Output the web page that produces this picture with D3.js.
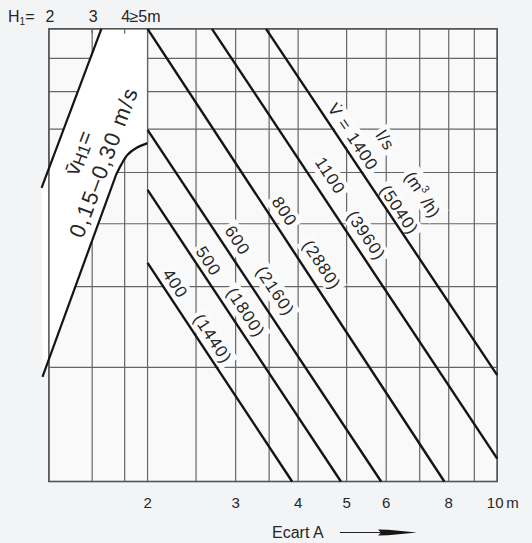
<!DOCTYPE html>
<html>
<head>
<meta charset="utf-8">
<script src="https://cdn.jsdelivr.net/npm/d3@7"></script>
<style>
html, body { margin: 0; padding: 0; background: #f3f4f6; }
svg { display: block; font-family: "Liberation Sans", Arial, Helvetica, sans-serif; }
</style>
</head>
<body>
<svg id="chart" width="532" height="543"></svg>
<script>
// distance A (m), log axis along the bottom
var distTicks  = [2, 3, 4, 5, 6, 8, 10];
var distLabels = ["2", "3", "4", "5", "6", "8", "10"];
var gridX = [1.27, 1.55, 1.8, 2, 2.5, 3, 3.5, 4, 5, 6, 7, 8, 9, 10];
var gridY = [2, 3, 4, 5, 6, 7, 8, 9, 10];

// H1 marks along the top
var h1Ticks  = [1.27, 1.55, 1.8, 2];
var h1Labels = ["2", "3", "4", "≥5m"];

// flow lines: l/s, m3/h, start and end point [A, y]
var flowLs    = [400, 500, 600, 800, 1100, 1400];
var flowM3h   = [1440, 1800, 2160, 2880, 3960, 5040];
var flowStart = [[2, 4.35], [2, 5.64], [2, 6.98], [2, 10], [2.69, 10], [3.45, 10]];
var flowEnd   = [[3.89, 2], [4.87, 2], [5.86, 2], [7.84, 2], [10, 2.17], [10, 2.92]];

// white band v_H1 = 0,15-0,30 m/s
var bandUpper = [[1.228, 5.68], [1.617, 10]];
var bandEdge  = [[2, 10], [2, 6.66]];
var bandBend  = [[2, 6.66], [1.895, 6.54], [1.824, 6.39], [1.77, 6.16], [1.73, 5.95]];
var bandLower = [[1.73, 5.95], [1.233, 2.90]];

// where the labels sit along each line (fraction) and off it (px)
var valueT = [0.124, 0.266, 0.336, 0.421, 0.364, 0.332];
var valueN = [11.5, 11, 13.5, 14, 17, 12];
var parenT = [0.378, 0.447, 0.485, 0.541, 0.499, 0.539];
var parenN = [12.5, 14, 17, 16, 14, 10];

var svg = d3.select("#chart");

var x = d3.scaleLog().domain([1.27, 10]).range([48.9, 497.2]);
var y = d3.scaleLog().domain([2, 10]).range([481.5, 28.8]);

var gridCol = "#656565", ink = "#141414", txtCol = "#262626", maskCol = "#fbfbfb";

var gBack  = svg.append("g");
var gGrid  = svg.append("g");
var gMask  = svg.append("g");
var gLines = svg.append("g");
var gText  = svg.append("g");

gBack.append("rect")
  .attr("x", x(1.27)).attr("y", y(10))
  .attr("width", x(10) - x(1.27)).attr("height", y(2) - y(10))
  .attr("fill", "#f9f9f9");

// grid
gGrid.selectAll("line.gv").data(gridX).join("line").attr("class", "gv")
  .attr("x1", d => x(d)).attr("x2", d => x(d))
  .attr("y1", y(10)).attr("y2", y(2))
  .attr("stroke", gridCol).attr("stroke-width", 1.2);
gGrid.selectAll("line.gh").data(gridY).join("line").attr("class", "gh")
  .attr("y1", d => y(d)).attr("y2", d => y(d))
  .attr("x1", x(1.27)).attr("x2", x(10))
  .attr("stroke", gridCol).attr("stroke-width", 1.2);

// band
function pt(d) { return x(d[0]) + "," + y(d[1]); }
var bendLine = d3.line().x(d => x(d[0])).y(d => y(d[1])).curve(d3.curveCatmullRom);
var bandPath = "M" + pt(bandUpper[0]) + "L" + pt(bandUpper[1]) + "L" + pt(bandEdge[0]) +
  "L" + pt(bandEdge[1]) + bendLine(bandBend).replace(/^M/, "L") + "L" + pt(bandLower[1]) + "Z";
gMask.append("path").attr("d", bandPath).attr("fill", "#ffffff");

// border and top ticks
gLines.append("rect")
  .attr("x", x(1.27)).attr("y", y(10))
  .attr("width", x(10) - x(1.27)).attr("height", y(2) - y(10))
  .attr("fill", "none").attr("stroke", "#555").attr("stroke-width", 1.6);
gLines.selectAll("line.tk").data(h1Ticks).join("line").attr("class", "tk")
  .attr("x1", d => x(d)).attr("x2", d => x(d))
  .attr("y1", y(10)).attr("y2", y(10) + 5)
  .attr("stroke", gridCol).attr("stroke-width", 1.2);
gLines.append("line")
  .attr("x1", x(2)).attr("x2", x(2)).attr("y1", y(10)).attr("y2", y(bandEdge[1][1]))
  .attr("stroke", gridCol).attr("stroke-width", 1.3);

// band edges
var straight = d3.line().x(d => x(d[0])).y(d => y(d[1]));
gLines.append("path").attr("d", straight(bandUpper))
  .attr("fill", "none").attr("stroke", ink).attr("stroke-width", 2.2);
gLines.append("path").attr("d", bendLine(bandBend) + "L" + pt(bandLower[1]))
  .attr("fill", "none").attr("stroke", ink).attr("stroke-width", 2.2);

// flow lines
var flows = flowLs.map(function(v, i) {
  return { ls: v, m3h: flowM3h[i], a: flowStart[i], b: flowEnd[i], i: i };
});
gLines.selectAll("line.flow").data(flows).join("line").attr("class", "flow")
  .attr("x1", d => x(d.a[0])).attr("y1", d => y(d.a[1]))
  .attr("x2", d => x(d.b[0])).attr("y2", d => y(d.b[1]))
  .attr("stroke", ink).attr("stroke-width", 2.4);

// rotated label with a blank patch behind it
function label(px, py, ang, size, build, padX, padY) {
  var g = gText.append("g").attr("transform", "translate(" + px + "," + py + ") rotate(" + ang + ")");
  var t = g.append("text")
    .attr("text-anchor", "middle").attr("dominant-baseline", "central")
    .attr("font-size", size).attr("fill", txtCol);
  build(t);
  var bb = t.node().getBBox();
  gMask.append("rect")
    .attr("transform", "translate(" + px + "," + py + ") rotate(" + ang + ")")
    .attr("x", bb.x - padX).attr("y", bb.y - padY)
    .attr("width", bb.width + 2 * padX).attr("height", bb.height + 2 * padY)
    .attr("fill", maskCol);
  return t;
}

flows.forEach(function(d, i) {
  var x0 = x(d.a[0]), y0 = y(d.a[1]), x1 = x(d.b[0]), y1 = y(d.b[1]);
  var dx = x1 - x0, dy = y1 - y0, len = Math.hypot(dx, dy);
  var ux = dx / len, uy = dy / len, nx = uy, ny = -ux;
  var ang = Math.atan2(dy, dx) * 180 / Math.PI;
  function at(t, n) { return [x0 + dx * t + nx * n, y0 + dy * t + ny * n]; }

  var p = at(valueT[i], valueN[i]);
  label(p[0], p[1], ang, 17, function(t) {
    t.attr("letter-spacing", 1).text(i === flows.length - 1 ? "V\u0307 = " + d.ls : String(d.ls));
  }, 3, 1);
  var q = at(parenT[i], parenN[i]);
  label(q[0], q[1], ang, 17, function(t) {
    t.attr("letter-spacing", 1).text("(" + d.m3h + ")");
  }, 3, 1);

  if (i === flows.length - 1) {
    var u1 = at(valueT[i] + 0.05, valueN[i] + 25);
    label(u1[0], u1[1], ang, 17, function(t) { t.attr("letter-spacing", 1).text("l/s"); }, 3, 1);
    var u2 = at(parenT[i], parenN[i] + 28);
    label(u2[0], u2[1], ang, 17, function(t) {
      t.text("(m");
      t.append("tspan").attr("font-size", 11).attr("dy", -6).text("3");
      t.append("tspan").attr("dy", 6).text(" /h)");
    }, 3, 1);
  }
});

// band text, along the band's upper edge
(function() {
  var ax = x(bandUpper[0][0]), ay = y(bandUpper[0][1]);
  var bx = x(bandUpper[1][0]), by = y(bandUpper[1][1]);
  var dx = bx - ax, dy = by - ay, len = Math.hypot(dx, dy);
  var ux = dx / len, uy = dy / len, nx = -uy, ny = ux;
  var ang = Math.atan2(dy, dx) * 180 / Math.PI;
  var s = 0.27 * len;
  var c2 = [ax + ux * s + nx * 49, ay + uy * s + ny * 49];
  var c1 = [ax + ux * s + nx * 22, ay + uy * s + ny * 22];
  var g1 = gText.append("text")
    .attr("transform", "translate(" + c1[0] + "," + c1[1] + ") rotate(" + ang + ")")
    .attr("text-anchor", "middle").attr("dominant-baseline", "central")
    .attr("font-size", 22).attr("fill", txtCol);
  g1.append("tspan").text("v\u0304");
  g1.append("tspan").attr("font-size", 17).attr("dy", 4).text("H1");
  g1.append("tspan").attr("dy", -4).text("=");
  gText.append("text")
    .attr("transform", "translate(" + c2[0] + "," + c2[1] + ") rotate(" + ang + ")")
    .attr("text-anchor", "middle").attr("dominant-baseline", "central")
    .attr("font-size", 22).attr("letter-spacing", 1.5).attr("fill", txtCol)
    .text("0,15\u20130,30 m/s");
})();

// top H1 labels
var topG = gText.append("g").attr("font-size", 16).attr("fill", txtCol);
var hLab = topG.append("text").attr("x", 8).attr("y", 21.5);
hLab.append("tspan").text("H");
hLab.append("tspan").attr("font-size", 10).attr("dy", 3).text("1");
hLab.append("tspan").attr("dy", -3).text("=");
topG.selectAll("text.h1").data(h1Ticks).join("text").attr("class", "h1")
  .attr("x", (d, i) => i === h1Ticks.length - 1 ? x(d) - 18 : x(d) + 1)
  .attr("y", 21.5)
  .attr("text-anchor", (d, i) => i === h1Ticks.length - 1 ? "start" : "middle")
  .text((d, i) => h1Labels[i]);

// bottom distance labels
var botG = gText.append("g").attr("font-size", 15).attr("fill", txtCol);
botG.selectAll("text.ax").data(distTicks).join("text").attr("class", "ax")
  .attr("x", d => x(d) - (d === 10 ? 2 : 0)).attr("y", 507.5).attr("text-anchor", "middle")
  .text((d, i) => distLabels[i]);
botG.append("text").attr("x", x(10) + 9).attr("y", 507.5).text("m");

botG.append("text").attr("x", 272).attr("y", 538).attr("font-size", 16).text("Ecart A");
botG.append("line").attr("x1", 340).attr("x2", 381).attr("y1", 532.5).attr("y2", 532.5)
  .attr("stroke", "#222").attr("stroke-width", 1.2);
botG.append("path")
  .attr("d", "M378,529.6 L388,529.8 L417,532.4 L388,535.2 L378,535.4 L381,532.5 Z")
  .attr("fill", "#151515");
</script>
</body>
</html>
